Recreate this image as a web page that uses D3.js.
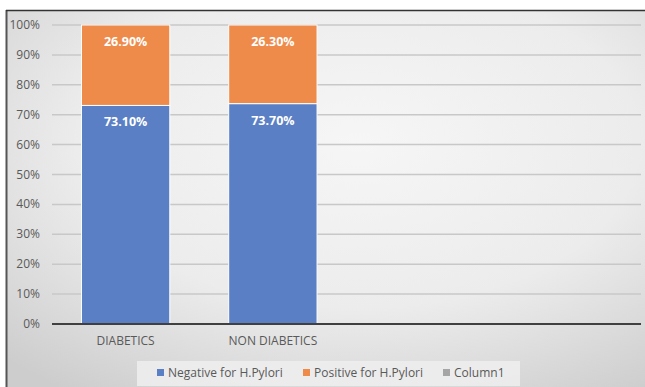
<!DOCTYPE html>
<html>
<head>
<meta charset="utf-8">
<script src="https://cdn.jsdelivr.net/npm/d3@7"></script>
<style>
  body { margin: 0; background: #fff; }
  svg { display: block; font-family: "Open Sans", sans-serif; }
</style>
</head>
<body>
<div id="chart"></div>
<script>
// chart data
var categories = ["DIABETICS", "NON DIABETICS", "", ""];
var negative = [73.1, 73.7];
var positive = [26.9, 26.3];
var column1 = [0, 0];
var seriesNames = ["Negative for H.Pylori", "Positive for H.Pylori", "Column1"];
var seriesColors = ["#5b7fc4", "#ee8b4b", "#a5a5a5"];
var yTicks = [0, 10, 20, 30, 40, 50, 60, 70, 80, 90, 100];

var W = 645, H = 387;
var svg = d3.select("#chart").append("svg")
    .attr("width", W).attr("height", H);

// background gradient like the office chart area
var defs = svg.append("defs");
var grad = defs.append("radialGradient")
    .attr("id", "bg")
    .attr("cx", "55%").attr("cy", "35%").attr("r", "80%");
grad.append("stop").attr("offset", "0%").attr("stop-color", "#f6f6f6");
grad.append("stop").attr("offset", "55%").attr("stop-color", "#ececec");
grad.append("stop").attr("offset", "100%").attr("stop-color", "#cdcdcd");

svg.append("rect").attr("width", W).attr("height", H).attr("fill", "#ffffff");
svg.append("rect")
    .attr("x", 7).attr("y", 11)
    .attr("width", W - 7).attr("height", H - 11)
    .attr("fill", "url(#bg)");
// frame lines
svg.append("line").attr("x1", 6.5).attr("x2", 6.5).attr("y1", 10).attr("y2", H)
    .attr("stroke", "#555").attr("stroke-width", 2);
svg.append("line").attr("x1", 6).attr("x2", W).attr("y1", 10.5).attr("y2", 10.5)
    .attr("stroke", "#333").attr("stroke-width", 1.5);

var plot = { left: 52, right: 641, top: 25, bottom: 324 };

var x = d3.scaleBand()
    .domain(d3.range(categories.length))
    .range([plot.left, plot.right])
    .paddingInner(0.4)
    .paddingOuter(0.2);

var y = d3.scaleLinear()
    .domain([0, 100])
    .range([plot.bottom, plot.top]);

// gridlines
svg.append("g").selectAll("line")
  .data(yTicks.filter(function(d) { return d > 0; }))
  .enter().append("line")
    .attr("x1", plot.left).attr("x2", plot.right)
    .attr("y1", function(d) { return y(d); })
    .attr("y2", function(d) { return y(d); })
    .attr("stroke", "#c8c8c8")
    .attr("stroke-width", 1.5);

// y tick labels
svg.append("g").selectAll("text")
  .data(yTicks)
  .enter().append("text")
    .attr("x", 40)
    .attr("y", function(d) { return y(d) + 4; })
    .attr("text-anchor", "end")
    .attr("font-size", "12px")
    .attr("fill", "#595959")
    .text(function(d) { return d + "%"; });

// stack the series
var rows = categories.slice(0, negative.length).map(function(c, i) {
  return { idx: i, neg: negative[i], pos: positive[i], col: column1[i] };
});
var stack = d3.stack().keys(["neg", "pos", "col"]);
var layers = stack(rows);

var g = svg.append("g").selectAll("g")
  .data(layers)
  .enter().append("g")
    .attr("fill", function(d, i) { return seriesColors[i]; });

g.selectAll("rect")
  .data(function(d) { return d; })
  .enter().append("rect")
    .attr("x", function(d) { return x(d.data.idx); })
    .attr("width", x.bandwidth())
    .attr("y", function(d) { return y(d[1]); })
    .attr("height", function(d) { return y(d[0]) - y(d[1]); })
    .attr("stroke", "#ffffff")
    .attr("stroke-width", function(d) { return d[1] > d[0] ? 1 : 0; });

// data labels, near top inside each segment
layers.slice(0, 2).forEach(function(layer) {
  svg.append("g").selectAll("text")
    .data(layer)
    .enter().append("text")
      .attr("x", function(d) { return x(d.data.idx) + x.bandwidth() / 2; })
      .attr("y", function(d) { return y(d[1]) + 21; })
      .attr("text-anchor", "middle")
      .attr("font-size", "12.5px")
      .attr("font-weight", "bold")
      .attr("fill", "#ffffff")
      .text(function(d) { return (d[1] - d[0]).toFixed(2) + "%"; });
});

// x axis line
svg.append("line")
    .attr("x1", plot.left).attr("x2", plot.right)
    .attr("y1", plot.bottom).attr("y2", plot.bottom)
    .attr("stroke", "#404040").attr("stroke-width", 2);

// category labels
svg.append("g").selectAll("text")
  .data(categories)
  .enter().append("text")
    .attr("x", function(d, i) { return x(i) + x.bandwidth() / 2; })
    .attr("y", 345)
    .attr("text-anchor", "middle")
    .attr("font-size", "12px")
    .attr("fill", "#595959")
    .text(function(d) { return d; });

// legend
var legend = svg.append("g");
legend.append("rect")
    .attr("x", 137).attr("y", 361)
    .attr("width", 383).attr("height", 25)
    .attr("fill", "#efefef").attr("opacity", 0.85);
var legX = [157, 303, 443];
seriesNames.forEach(function(name, i) {
  legend.append("rect")
      .attr("x", legX[i]).attr("y", 369)
      .attr("width", 7).attr("height", 7)
      .attr("fill", seriesColors[i]);
  legend.append("text")
      .attr("x", legX[i] + 11).attr("y", 377)
      .attr("font-size", "12px")
      .attr("fill", "#595959")
      .text(name);
});
</script>
</body>
</html>
